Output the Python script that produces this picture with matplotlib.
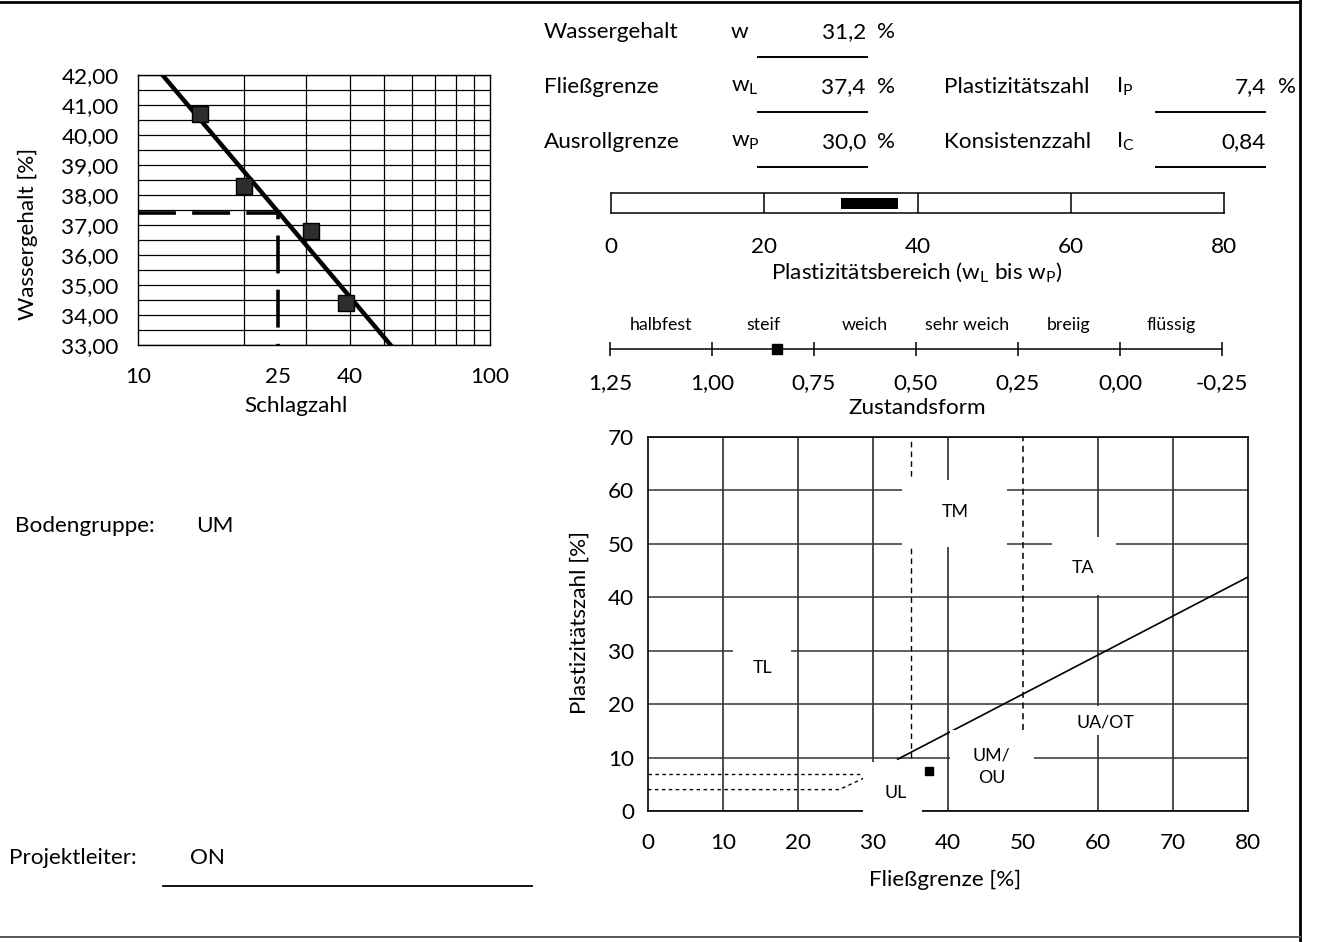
import numpy as np
import matplotlib
matplotlib.use("Agg")
import matplotlib.pyplot as plt
from matplotlib.ticker import FixedLocator, FuncFormatter, MultipleLocator, NullFormatter
from matplotlib.patches import Rectangle
from matplotlib.lines import Line2D

plt.rcParams['font.family'] = ['Lato', 'DejaVu Sans']
plt.rcParams['mathtext.default'] = 'regular'

# --- Fliessgrenze nach Casagrande: Schlagzahl / Wassergehalt der Proben ---
schlagzahl = [15, 20, 31, 39]
wassergehalt_proben = [40.7, 38.3, 36.8, 34.4]

# --- Kennwerte ---
w_nat = 31.2
w_L = 37.4
w_P = 30.0
I_P = 7.4
I_C = 0.84
bodengruppe = "UM"
projektleiter = "ON"

# --- Zustandsform ---
zustand_grenzen = [1.25, 1.00, 0.75, 0.50, 0.25, 0.00, -0.25]
zustand_namen = ["halbfest", "steif", "weich", "sehr weich", "breiig", "flüssig"]

# --- Plastizitaetsdiagramm ---
a_linie_x = [33.3, 80]
a_linie_y = [9.7, 43.8]
zone_oben_x = [0, 29]
zone_oben_y = [7, 7]
zone_unten_x = [0, 25.5, 29]
zone_unten_y = [4, 4, 6.3]
grenze_35_y = [10, 70]
grenze_50_y = [15.2, 70]

W, H = 1317, 942
FS = 16.2
FS_SMALL = 12.8


def px(x, y):
    return x / W, 1 - y / H


def komma(v, nachkomma):
    return f"{v:.{nachkomma}f}".replace(".", ",")


fig = plt.figure(figsize=(W / 100, H / 100), dpi=100)

# ---------------------------------------------------------------- Casagrande
ax1 = fig.add_axes([138 / W, 1 - 345 / H, 352 / W, 270 / H])
ax1.set_xscale("log")
ax1.set_xlim(10, 100)
ax1.set_ylim(33, 42)
ax1.xaxis.remove_overlapping_locs = False
ax1.xaxis.set_major_locator(FixedLocator([10, 25, 40, 100]))
ax1.xaxis.set_major_formatter(FuncFormatter(lambda v, p: f"{v:.0f}"))
ax1.xaxis.set_minor_locator(FixedLocator([20, 30, 40, 50, 60, 70, 80, 90]))
ax1.xaxis.set_minor_formatter(NullFormatter())
ax1.yaxis.set_major_locator(MultipleLocator(1))
ax1.yaxis.set_minor_locator(MultipleLocator(0.5))
ax1.yaxis.set_major_formatter(FuncFormatter(lambda v, p: komma(v, 2)))
ax1.grid(which="minor", axis="x", color="black", lw=0.9)
ax1.grid(which="both", axis="y", color="black", lw=0.9)
ax1.tick_params(which="both", length=0, labelsize=FS)
ax1.tick_params(axis="y", pad=14)
ax1.tick_params(axis="x", pad=16)
for s in ax1.spines.values():
    s.set_linewidth(1.0)

k = np.polyfit(np.log10(schlagzahl), wassergehalt_proben, 1)
n_fit = np.array([10, 100])
ax1.plot(n_fit, np.polyval(k, np.log10(n_fit)), color="black", lw=3.2, zorder=4)
ax1.plot([10, 25, 25], [w_L, w_L, 33], color="black", lw=2.6, dashes=(10.5, 4.5), zorder=3)
ax1.plot(schlagzahl, wassergehalt_proben, "s", ms=11.5, mfc="#2e2e2e", mec="black", zorder=5)

fig.text(*px(28, 234), "Wassergehalt [%]", rotation=90, ha="center", va="center", fontsize=FS)
fig.text(*px(296, 406), "Schlagzahl", ha="center", va="center", fontsize=FS)

# ---------------------------------------------------------------- Kennwerte
zeilen_y = [32, 87, 142]
links = [("Wassergehalt", "w", komma(w_nat, 1), "%"),
         ("Fließgrenze", "w$_L$", komma(w_L, 1), "%"),
         ("Ausrollgrenze", "w$_P$", komma(w_P, 1), "%")]
for y, (name, sym, wert, einheit) in zip(zeilen_y, links):
    fig.text(*px(544, y), name, ha="left", va="center", fontsize=FS)
    fig.text(*px(731, y), sym, ha="left", va="center", fontsize=FS)
    fig.text(*px(866, y), wert, ha="right", va="center", fontsize=FS)
    fig.text(*px(877, y), einheit, ha="left", va="center", fontsize=FS)
    fig.add_artist(Line2D([758 / W, 867 / W], [1 - (y + 25) / H] * 2, color="black", lw=1.4))

rechts = [("Plastizitätszahl", "I$_P$", komma(I_P, 1), "%"),
          ("Konsistenzzahl", "I$_C$", komma(I_C, 2), "")]
for y, (name, sym, wert, einheit) in zip(zeilen_y[1:], rechts):
    fig.text(*px(944, y), name, ha="left", va="center", fontsize=FS)
    fig.text(*px(1116, y), sym, ha="left", va="center", fontsize=FS)
    fig.text(*px(1266, y), wert, ha="right", va="center", fontsize=FS)
    fig.text(*px(1278, y), einheit, ha="left", va="center", fontsize=FS)
    fig.add_artist(Line2D([1156 / W, 1265 / W], [1 - (y + 25) / H] * 2, color="black", lw=1.4))

# ---------------------------------------------------------------- Plastizitaetsbereich
axb = fig.add_axes([611 / W, 1 - 213 / H, 613 / W, 20 / H])
axb.set_xlim(0, 80)
axb.set_ylim(0, 1)
axb.set_yticks([])
axb.set_xticks([0, 20, 40, 60, 80])
axb.tick_params(length=0, labelsize=FS, pad=17)
for xv in [20, 40, 60]:
    axb.axvline(xv, color="black", lw=1.1)
axb.barh(0.5, w_L - w_P, left=w_P, height=0.55, color="black")
for s in axb.spines.values():
    s.set_linewidth(1.1)
fig.text(*px(917, 272), "Plastizitätsbereich (w$_L$ bis w$_P$)", ha="center", va="center", fontsize=FS)

# ---------------------------------------------------------------- Zustandsform
axz = fig.add_axes([610 / W, 1 - 349 / H, 612 / W, 45 / H])
axz.set_xlim(zustand_grenzen[0], zustand_grenzen[-1])
axz.set_ylim(0, 1)
axz.set_yticks([])
axz.set_xticks(zustand_grenzen)
axz.xaxis.set_major_formatter(FuncFormatter(lambda v, p: komma(v, 2)))
axz.tick_params(axis="x", direction="inout", length=10, width=1.1, labelsize=FS, pad=12)
for side in ["top", "left", "right"]:
    axz.spines[side].set_visible(False)
axz.spines["bottom"].set_linewidth(1.1)
for a, b, name in zip(zustand_grenzen[:-1], zustand_grenzen[1:], zustand_namen):
    axz.text((a + b) / 2, 0.53, name, ha="center", va="center", fontsize=FS_SMALL)
axz.plot([I_C], [0], "s", ms=6.5, color="black", clip_on=False, zorder=5)
fig.text(*px(917, 408), "Zustandsform", ha="center", va="center", fontsize=FS)

# ---------------------------------------------------------------- Plastizitaetsdiagramm
axp = fig.add_axes([648 / W, 1 - 811 / H, 600 / W, 374 / H])
axp.set_xlim(0, 80)
axp.set_ylim(0, 70)
axp.xaxis.remove_overlapping_locs = False
axp.xaxis.set_major_locator(MultipleLocator(10))
axp.yaxis.set_major_locator(MultipleLocator(10))
# senkrechtes Raster ohne 50 (dort nur die gestrichelte Grenze)
axp.xaxis.set_minor_locator(FixedLocator([10, 20, 30, 40, 60, 70]))
axp.xaxis.set_minor_formatter(NullFormatter())
axp.tick_params(which="both", length=0, labelsize=FS)
axp.tick_params(axis="y", pad=10)
axp.tick_params(axis="x", pad=16)
axp.set_axisbelow(True)
axp.grid(which="major", axis="y", color="0.2", lw=1.1)
axp.grid(which="minor", axis="x", color="0.1", lw=1.1)
for s in axp.spines.values():
    s.set_linewidth(1.2)

axp.plot(a_linie_x, a_linie_y, color="black", lw=1.2, zorder=0.8)
axp.plot([35, 35], grenze_35_y, color="black", lw=1.0, dashes=(4, 3), zorder=0.8)
axp.plot([50, 50], grenze_50_y, color="black", lw=1.1, dashes=(4, 3), zorder=0.8)
axp.plot(zone_oben_x, zone_oben_y, color="black", lw=1.0, dashes=(2.5, 2.5), zorder=0.8)
axp.plot(zone_unten_x, zone_unten_y, color="black", lw=1.0, dashes=(2.5, 2.5), zorder=0.8)

# Beschriftungen der Bodengruppen mit weissem Hintergrund (Luecken im Raster)
felder = [("TM", 41, 56, (33.9, 49.4, 13.9, 12.6)),
          ("TA", 58, 45.5, (53.9, 40.5, 8.5, 10.7)),
          ("TL", 15.3, 26.8, (11.3, 24, 7.7, 8)),
          ("UL", 33, 3.4, (28.7, -1.5, 7.8, 10.7)),
          ("UM/\nOU", 45.8, 8.2, (40.25, 0.4, 11.25, 14.8)),
          ("UA/OT", 61, 16.5, (55.5, 14.3, 11, 5.3))]
for name, tx, ty, (bx, by, bw, bh) in felder:
    axp.add_patch(Rectangle((bx, by), bw, bh, facecolor="white", edgecolor="none",
                            zorder=3, clip_on=False))
    axp.text(tx, ty, name, ha="center", va="center", fontsize=FS_SMALL, zorder=4,
             linespacing=1.5)

axp.plot([w_L], [I_P], "s", ms=6, color="black", zorder=5)

fig.text(*px(580, 622), "Plastizitätszahl [%]", rotation=90, ha="center", va="center", fontsize=FS)
fig.text(*px(945, 880), "Fließgrenze [%]", ha="center", va="center", fontsize=FS)

# ---------------------------------------------------------------- Angaben links
fig.text(*px(15, 526), "Bodengruppe:", ha="left", va="center", fontsize=FS)
fig.text(*px(196, 526), bodengruppe, ha="left", va="center", fontsize=FS)
fig.text(*px(9, 858), "Projektleiter:", ha="left", va="center", fontsize=FS)
fig.text(*px(190, 858), projektleiter, ha="left", va="center", fontsize=FS)
fig.add_artist(Line2D([163 / W, 532 / W], [1 - 886 / H] * 2, color="black", lw=1.3))

# ---------------------------------------------------------------- Rahmen
fig.add_artist(Line2D([0, 1300 / W], [1 - 2 / H] * 2, color="black", lw=2.0))
fig.add_artist(Line2D([1300 / W, 1300 / W], [0, 1], color="black", lw=2.0))
fig.add_artist(Line2D([0, 1300 / W], [1 - 937 / H] * 2, color="0.35", lw=1.4))

fig.savefig("out.png", dpi=100)
